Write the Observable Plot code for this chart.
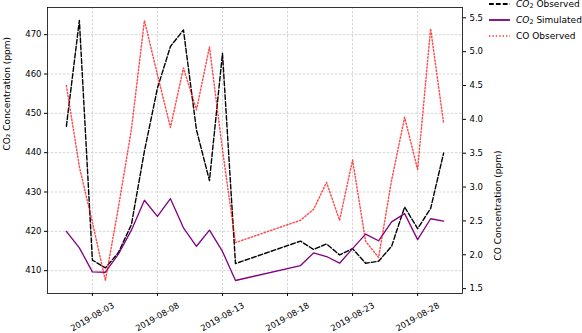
<!DOCTYPE html>
<html>
<head>
<meta charset="utf-8">
<script src="https://cdn.jsdelivr.net/npm/d3@7"></script>
<script src="https://cdn.jsdelivr.net/npm/@observablehq/plot@0.6"></script>
<style>
  html, body { margin: 0; padding: 0; background: white; }
  #wrap { position: relative; width: 582px; height: 333px; font-family: "DejaVu Sans", sans-serif; }
  #legend { position: absolute; left: 488px; top: -4px; font-size: 9px; color: #000; }
  #legend .row { display: flex; align-items: center; height: 16px; }
  #legend svg { margin-right: 5px; }
  sub { font-size: 6.5px; vertical-align: -1px; line-height: 0; }
</style>
</head>
<body>
<div id="wrap"></div>
<script>
// ---- data ----
const dates = [
  "2019-08-01","2019-08-02","2019-08-03","2019-08-04","2019-08-05","2019-08-06","2019-08-07",
  "2019-08-08","2019-08-09","2019-08-10","2019-08-11","2019-08-12","2019-08-13","2019-08-14",
  "2019-08-19","2019-08-20","2019-08-21","2019-08-22","2019-08-23","2019-08-24","2019-08-25",
  "2019-08-26","2019-08-27","2019-08-28","2019-08-29","2019-08-30"
];
const co2Observed = [
  446.7, 473.6, 412.7, 410.7, 414.6, 421.7, 440.4,
  456.4, 467.0, 471.2, 445.8, 432.9, 465.2, 411.8,
  417.5, 415.4, 416.8, 414.0, 415.6, 411.9, 412.4,
  416.2, 426.2, 420.7, 425.8, 439.9
];
const co2Simulated = [
  420.0, 415.8, 409.7, 409.6, 414.2, 420.3, 427.9,
  423.8, 428.3, 420.9, 416.2, 420.3, 414.9, 407.5,
  411.3, 414.5, 413.6, 411.9, 415.6, 419.3, 417.6,
  422.4, 424.5, 417.9, 423.2, 422.6
];
const coObserved = [
  4.50, 3.30, 2.48, 1.62, 2.70, 3.85, 5.46,
  4.66, 3.88, 4.76, 4.14, 5.07, 3.55, 2.18,
  2.51, 2.67, 3.07, 2.51, 3.40, 2.20, 1.96,
  3.10, 4.03, 3.26, 5.34, 3.94
];
const xTickLabels = ["2019-08-03","2019-08-08","2019-08-13","2019-08-18","2019-08-23","2019-08-28"];
const leftTicks = [410, 420, 430, 440, 450, 460, 470];
const rightTicks = [1.5, 2.0, 2.5, 3.0, 3.5, 4.0, 4.5, 5.0, 5.5];
const seriesNames = ["CO₂ Observed", "CO₂ Simulated", "CO Observed"];

// ---- build ----
const parse = d3.utcParse("%Y-%m-%d");
const data = dates.map((d, i) => ({date: parse(d), obs: co2Observed[i], sim: co2Simulated[i], co: coObserved[i]}));
const xTicks = xTickLabels.map(parse);

function pad(ext, f = 0.05) { const s = ext[1] - ext[0]; return [ext[0] - f * s, ext[1] + f * s]; }
const xExt = d3.extent(data, d => d.date);
const xSpan = xExt[1] - xExt[0];
const xDomain = [new Date(+xExt[0] - 0.05 * xSpan), new Date(+xExt[1] + 0.05 * xSpan)];
const yDomain = pad(d3.extent([...co2Observed, ...co2Simulated]));
const coDomain = pad(d3.extent(coObserved));
const coToY = d3.scaleLinear().domain(coDomain).range(yDomain);

const gridStyle = {stroke: "#b0b0b0", strokeOpacity: 0.75, strokeWidth: 0.7, strokeDasharray: "2.5,1.5"};

const chart = Plot.plot({
  width: 582, height: 333,
  marginLeft: 47, marginRight: 120, marginTop: 7, marginBottom: 40,
  style: {fontFamily: "DejaVu Sans", fontSize: "8.5px", background: "white", color: "black", overflow: "visible"},
  x: {type: "utc", domain: xDomain},
  y: {domain: yDomain},
  marks: [
    Plot.gridX(xTicks, gridStyle),
    Plot.gridY(leftTicks, gridStyle),
    Plot.line(data, {x: "date", y: "obs", stroke: "black", strokeWidth: 1.4, strokeDasharray: "4.8,2.1"}),
    Plot.line(data, {x: "date", y: "sim", stroke: "purple", strokeWidth: 1.3}),
    Plot.line(data, {x: "date", y: d => coToY(d.co), stroke: "red", strokeOpacity: 0.7, strokeWidth: 1.45, strokeDasharray: "1.4,2"}),
    Plot.frame({stroke: "black", strokeWidth: 0.8}),
    Plot.axisY(leftTicks, {anchor: "left", tickSize: 3, tickPadding: 3, label: null}),
    Plot.axisY(rightTicks.map(v => coToY(v)), {anchor: "right", tickSize: 3, tickPadding: 4, label: null,
      tickFormat: d => coToY.invert(d).toFixed(1)}),
    Plot.axisX(xTicks, {tickSize: 3, tickFormat: () => "", label: null}),
    Plot.text(xTicks, {x: d => d, frameAnchor: "bottom", dy: 23.5, rotate: -30, text: (d, i) => xTickLabels[i],
      textAnchor: "middle", lineAnchor: "middle", fontSize: 8.4}),
    Plot.text(["CO₂ Concentration (ppm)"], {frameAnchor: "left", dx: -40, rotate: -90, fontSize: 9}),
    Plot.text(["CO Concentration (ppm)"], {frameAnchor: "right", dx: 36, rotate: -90, fontSize: 9})
  ]
});

const wrap = document.getElementById("wrap");
wrap.appendChild(chart);

// legend (outside the plot, top right)
const legend = document.createElement("div");
legend.id = "legend";
const samples = [
  {stroke: "black", dash: "4.8,2.1", op: 1},
  {stroke: "purple", dash: null, op: 0.9},
  {stroke: "red", dash: "1.4,2", op: 0.6}
];
const labelsHtml = [
  "<i>CO</i><sub>2</sub> Observed",
  "<i>CO</i><sub>2</sub> Simulated",
  "CO Observed"
];
samples.forEach((s, i) => {
  const row = document.createElement("div");
  row.className = "row";
  row.title = seriesNames[i];
  row.innerHTML = `<svg width="23" height="6"><line x1="1" x2="22" y1="3" y2="3" stroke="${s.stroke}" stroke-opacity="${s.op}" stroke-width="${i === 1 ? 2 : 1.8}" ${s.dash ? `stroke-dasharray="${s.dash}"` : ""}/></svg><span>${labelsHtml[i]}</span>`;
  legend.appendChild(row);
});
wrap.appendChild(legend);
</script>
</body>
</html>
